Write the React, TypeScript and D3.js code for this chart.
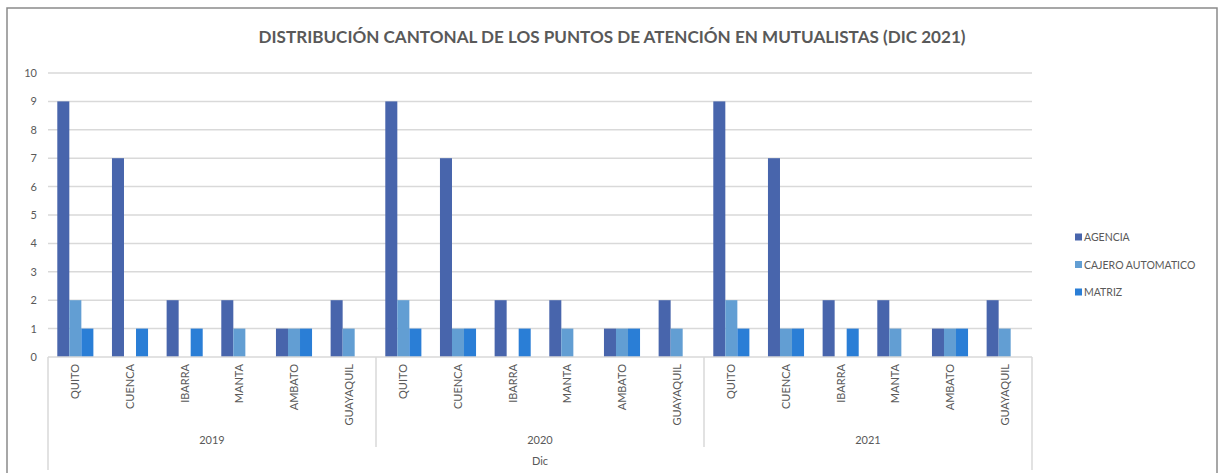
import React from "react";
import * as d3 from "d3";

const years = ["2019", "2020", "2021"];
const cities = ["QUITO", "CUENCA", "IBARRA", "MANTA", "AMBATO", "GUAYAQUIL"];
const seriesNames = ["AGENCIA", "CAJERO AUTOMATICO", "MATRIZ"];
const colors = ["#4865AC", "#629ED3", "#2A7ED6"];
// values per year, per city: [AGENCIA, CAJERO, MATRIZ]
const agencia2019 = [9, 7, 2, 2, 1, 2];
const cajero2019 = [2, 0, 0, 1, 1, 1];
const matriz2019 = [1, 1, 1, 0, 1, 0];
const agencia2020 = [9, 7, 2, 2, 1, 2];
const cajero2020 = [2, 1, 0, 1, 1, 1];
const matriz2020 = [1, 1, 1, 0, 1, 0];
const agencia2021 = [9, 7, 2, 2, 1, 2];
const cajero2021 = [2, 1, 0, 1, 1, 1];
const matriz2021 = [1, 1, 1, 0, 1, 0];
const yTicks = [0, 1, 2, 3, 4, 5, 6, 7, 8, 9, 10];
const title = "DISTRIBUCIÓN CANTONAL DE LOS PUNTOS DE ATENCIÓN EN MUTUALISTAS (DIC 2021)";
const outerLabel = "Dic";

const yearData = [
  [agencia2019, cajero2019, matriz2019],
  [agencia2020, cajero2020, matriz2020],
  [agencia2021, cajero2021, matriz2021],
];

export default function App() {
  const W = 1218, H = 473;
  const left = 48, right = 1032, top = 73, bottom = 357;
  const font = "Lato, 'Open Sans', sans-serif";
  const textColor = "#595959";

  const cats = years.flatMap((y) => cities.map((c) => `${y}|${c}`));
  const x = d3.scaleBand().domain(cats).range([left, right]).paddingInner(0.34).paddingOuter(0.17);
  const xFull = d3.scaleBand().domain(cats).range([left, right]);
  const xs = d3.scaleBand().domain(seriesNames).range([0, x.bandwidth()]);
  const y = d3.scaleLinear().domain([0, 10]).range([bottom, top]);
  const yearScale = d3.scaleBand().domain(years).range([left, right]);

  const bars: any[] = [];
  years.forEach((yr, yi) => {
    cities.forEach((c, ci) => {
      seriesNames.forEach((s, si) => {
        const v = yearData[yi][si][ci];
        if (v > 0) {
          bars.push(
            <rect
              key={`${yr}-${c}-${s}`}
              x={(x(`${yr}|${c}`) as number) + (xs(s) as number)}
              y={y(v)}
              width={xs.bandwidth()}
              height={y(0) - y(v)}
              fill={colors[si]}
            />
          );
        }
      });
    });
  });

  return (
    <svg width={W} height={H} style={{ position: "absolute", left: 0, top: 0 }}>
      <rect x={0} y={0} width={W} height={H} fill="#fff" />
      {/* chart border */}
      <path d={`M7,${H} L7,8 L1217,8 L1217,${H}`} fill="none" stroke="#8a8a8a" strokeWidth={1.5} />
      <text x={612} y={43} textAnchor="middle" fontFamily={font} fontWeight={700} fontSize={17}
        fill={textColor} textLength={707} lengthAdjust="spacingAndGlyphs">{title}</text>
      {/* gridlines */}
      {yTicks.map((t) => (
        <g key={t}>
          {t > 0 && <line x1={left} x2={right} y1={y(t)} y2={y(t)} stroke="#d9d9d9" strokeWidth={1.5} />}
          <text x={37} y={y(t) + 4} textAnchor="end" fontFamily={font} fontSize={11} fill={textColor}>{t}</text>
        </g>
      ))}
      {bars}
      {/* x axis */}
      <line x1={left} x2={right} y1={bottom} y2={bottom} stroke="#d9d9d9" strokeWidth={1.5} />
      {years.map((yr, i) => {
        const x0 = yearScale(yr) as number;
        const x1 = x0 + yearScale.bandwidth();
        return (
          <g key={yr}>
            {i > 0 && <line x1={x0} x2={x0} y1={bottom} y2={447} stroke="#d9d9d9" strokeWidth={1.5} />}
            <text x={(x0 + x1) / 2} y={444} textAnchor="middle" fontFamily={font} fontSize={11} fill={textColor}>{yr}</text>
          </g>
        );
      })}
      <line x1={left} x2={left} y1={bottom} y2={470} stroke="#d9d9d9" strokeWidth={1.5} />
      <line x1={right} x2={right} y1={bottom} y2={470} stroke="#d9d9d9" strokeWidth={1.5} />
      {cats.map((c) => {
        const cx = (xFull(c) as number) + xFull.bandwidth() / 2;
        const name = c.split("|")[1];
        return (
          <text key={c} transform={`translate(${cx + 4},${364}) rotate(-90)`} textAnchor="end"
            fontFamily={font} fontSize={11} fill={textColor}>{name}</text>
        );
      })}
      <text x={(left + right) / 2} y={465} textAnchor="middle" fontFamily={font} fontSize={11} fill={textColor}>{outerLabel}</text>
      {/* legend */}
      {seriesNames.map((s, i) => (
        <g key={s} transform={`translate(1075,${237 + i * 27.5})`}>
          <rect x={0} y={-3.5} width={7} height={7} fill={colors[i]} />
          <text x={9} y={4} fontFamily={font} fontSize={10.5} fill={textColor}>{s}</text>
        </g>
      ))}
    </svg>
  );
}
